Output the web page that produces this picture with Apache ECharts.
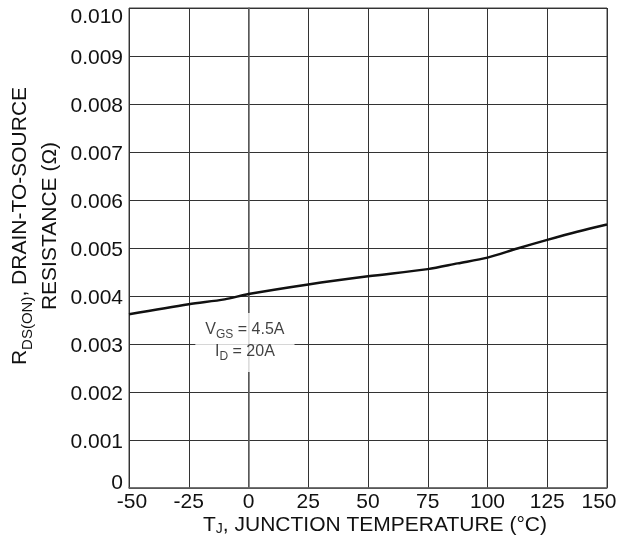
<!DOCTYPE html>
<html>
<head>
<meta charset="utf-8">
<script src="https://cdn.jsdelivr.net/npm/echarts@6/dist/echarts.min.js"></script>
<style>
html,body{margin:0;padding:0;background:#fff;}
#chart{width:617px;height:536px;}
</style>
</head>
<body>
<div id="chart"></div>
<script>
// Junction temperature (°C)
const temps = [-50, -25, -10, 0, 25, 50, 75, 87.5, 100, 112.5, 125, 137.5, 150];
// R_DS(ON) (Ω)
const rdsOn = [0.00362, 0.00383, 0.00393, 0.00404, 0.00424, 0.00441, 0.00456, 0.00468, 0.00480, 0.00499, 0.00517, 0.00534, 0.00549];
const xTickLabels = ['-50', '-25', '0', '25', '50', '75', '100', '125', '150'];
const yTickLabels = ['0', '0.001', '0.002', '0.003', '0.004', '0.005', '0.006', '0.007', '0.008', '0.009', '0.010'];
const annotation = { x: -1.5, y: 0.00303 };

const FONT = '"Liberation Sans", Arial, sans-serif';
const FS = 21;
const chart = echarts.init(document.getElementById('chart'));
chart.setOption({
  animation: false,
  backgroundColor: '#fff',
  textStyle: { fontFamily: FONT },
  grid: { left: 129, right: 10, top: 8, bottom: 48, containLabel: false, outerBoundsMode: 'none',
          show: true, borderColor: '#444', borderWidth: 1 },
  xAxis: {
    type: 'value', min: -50, max: 150, interval: 25,
    axisLine: { show: true, lineStyle: { color: '#666', width: 1.5 } },
    axisTick: { show: false },
    splitLine: { show: true, lineStyle: { color: '#333', width: 1 } },
    axisLabel: {
      margin: 4, color: '#111', fontSize: FS, fontFamily: FONT,
      formatter: function (v) {
        const i = Math.round((v + 50) / 25);
        const t = xTickLabels[i];
        if (i === 0) return '{l|' + t + '}';
        if (i === xTickLabels.length - 1) return '{r|' + t + '}';
        return t;
      },
      rich: {
        l: { fontSize: FS, fontFamily: FONT, color: '#111', padding: [0, 0, 0, 6] },
        r: { fontSize: FS, fontFamily: FONT, color: '#111', padding: [0, 16, 0, 0] }
      }
    },
    name: 'T{sub|J}, JUNCTION TEMPERATURE (°C)',
    nameLocation: 'middle', nameGap: 26, nameMoveOverlap: false,
    nameTextStyle: {
      fontSize: FS, color: '#111', fontFamily: FONT, padding: [0, 0, 0, 14],
      rich: { sub: { fontSize: 14, fontFamily: FONT, color: '#111', verticalAlign: 'bottom', padding: [8, 0, 0, 0] } }
    }
  },
  yAxis: {
    type: 'value', min: 0, max: 0.01, interval: 0.001,
    axisLine: { show: true, lineStyle: { color: '#666', width: 1.5 } },
    axisTick: { show: false },
    splitLine: { show: true, lineStyle: { color: '#333', width: 1 } },
    axisLabel: {
      margin: 6, color: '#111', fontSize: FS, fontFamily: FONT,
      formatter: function (v) {
        const i = Math.round(v * 1000);
        const t = yTickLabels[i];
        if (i === 0) return '{b|' + t + '}';
        if (i === yTickLabels.length - 1) return '{t|' + t + '}';
        return '{m|' + t + '}';
      },
      rich: {
        b: { fontSize: FS, fontFamily: FONT, color: '#111', padding: [0, 0, 9, 0] },
        t: { fontSize: FS, fontFamily: FONT, color: '#111', padding: [18, 0, 0, 0] },
        m: { fontSize: FS, fontFamily: FONT, color: '#111', padding: [4, 0, 0, 0] }
      }
    },
    name: 'R{sub|DS(ON)}, DRAIN-TO-SOURCE\nRESISTANCE (Ω)',
    nameLocation: 'middle', nameGap: 64, nameMoveOverlap: false,
    nameTextStyle: {
      fontSize: FS, color: '#111', fontFamily: FONT, lineHeight: 30,
      padding: [0, 0, 0, 44],
      rich: { sub: { fontSize: 15, fontFamily: FONT, color: '#111', lineHeight: 30, verticalAlign: 'bottom', padding: [8, 0, 0, 0] } }
    }
  },
  series: [
    {
      type: 'line', data: temps.map((t, i) => [t, rdsOn[i]]),
      smooth: 0.3, showSymbol: false,
      lineStyle: { color: '#111', width: 2.5 }
    },
    {
      type: 'scatter', data: [[annotation.x, annotation.y]],
      symbolSize: 0, silent: true, z: 5,
      label: {
        show: true, position: 'inside',
        backgroundColor: '#fff', padding: [6, 10, 9, 10],
        formatter: 'V{s|GS} = 4.5A\nI{s|D} = 20A',
        fontSize: 16, fontFamily: FONT, color: '#111', lineHeight: 22, align: 'center',
        rich: { s: { fontSize: 12, fontFamily: FONT, color: '#111', verticalAlign: 'bottom', padding: [6, 0, 0, 0], lineHeight: 22 } }
      }
    }
  ]
});
</script>
</body>
</html>
